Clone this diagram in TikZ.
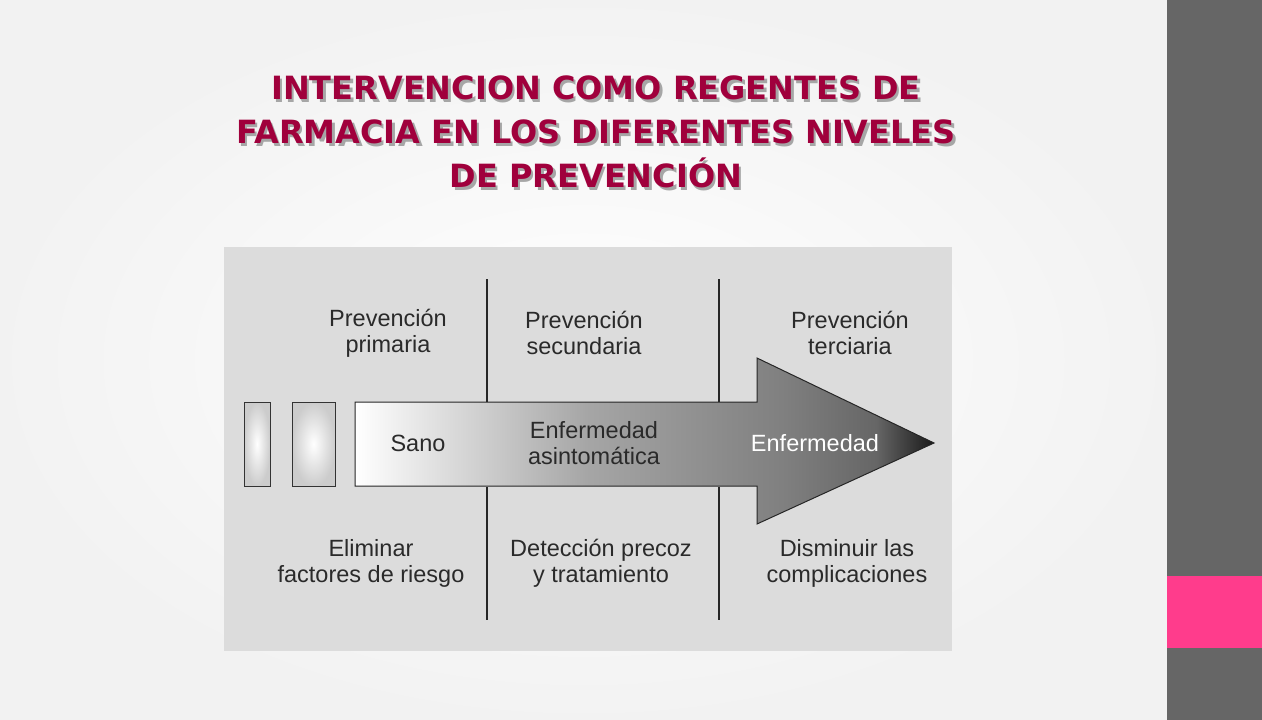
\documentclass[tikz,border=0pt]{standalone}
\usepackage{fontspec}
\setmainfont{Liberation Sans}
\newfontfamily\titlefont{DejaVu Sans}
\definecolor{side}{HTML}{666666}
\definecolor{pinkc}{HTML}{FF3C8C}
\definecolor{titc}{HTML}{A0003C}
\definecolor{panel}{HTML}{DCDCDC}
\definecolor{txt}{HTML}{2A2A2A}
\pgfdeclarehorizontalshading{arrowshade}{100bp}{color(0bp)=(white); color(22bp)=(white); color(25bp)=(white); color(45bp)=(black!35); color(62bp)=(black!50); color(70bp)=(black!60); color(75bp)=(black!90); color(100bp)=(black!90)}
\tikzset{
  lbl/.style={text=txt, align=center, font=\fontsize{23.5}{26}\selectfont},
  tit/.style={align=center, font=\titlefont\bfseries\fontsize{32}{44}\selectfont},
  smallbox/.style={draw=black!80, line width=1pt, inner color=white, outer color=black!20},
  divider/.style={black!85, line width=1.2pt}
}
\begin{document}
\begin{tikzpicture}[x=1pt,y=-1pt]
\useasboundingbox (0,0) rectangle (1262,720);
\shade[inner color=white, outer color=black!5] (0,0) rectangle (1167,720);
\fill[side] (1167,0) rectangle (1262,720);
\fill[pinkc] (1167,576) rectangle (1262,648);
\node[tit, text=black!35] at (598.5,134.5) {INTERVENCION COMO REGENTES DE\\FARMACIA EN LOS DIFERENTES NIVELES\\DE PREVENCIÓN};
\node[tit, text=titc] (title) at (596,132) {INTERVENCION COMO REGENTES DE\\FARMACIA EN LOS DIFERENTES NIVELES\\DE PREVENCIÓN};
\fill[panel] (224,247) rectangle (952,651);
\draw[divider] (487,279) -- (487,402);
\draw[divider] (487,487) -- (487,620);
\draw[divider] (719,279) -- (719,402);
\draw[divider] (719,487) -- (719,620);
\draw[smallbox] (244,402) rectangle (270,486);
\draw[smallbox] (292,402) rectangle (335,486);
\shade[shading=arrowshade, draw=black!85, line width=1pt] (355,402) -- (757,402) -- (757,358) -- (934,443) -- (757,524) -- (757,486) -- (355,486) -- cycle;
\node[lbl] (sano) at (418,443) {Sano};
\node[lbl] (asin) at (594,443) {Enfermedad\\asintomática};
\node[lbl, text=white] (enf) at (815,443) {Enfermedad};
\node[lbl] (p1) at (388,333) {Prevención\\primaria};
\node[lbl] (p2) at (584,333) {Prevención\\secundaria};
\node[lbl] (p3) at (850,333) {Prevención\\terciaria};
\node[lbl] (b1) at (371,563) {Eliminar\\factores de riesgo};
\node[lbl] (b2) at (601,563) {Detección precoz\\y tratamiento};
\node[lbl] (b3) at (847,563) {Disminuir las\\complicaciones};
\end{tikzpicture}
\end{document}
